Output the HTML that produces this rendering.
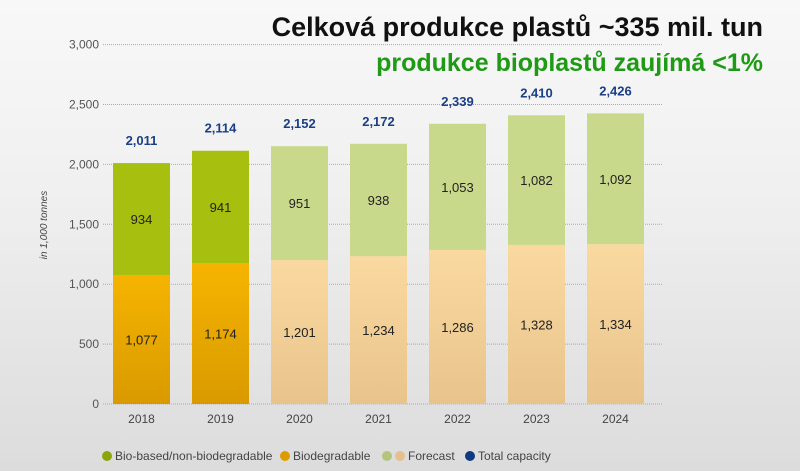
<!DOCTYPE html>
<html><head><meta charset="utf-8"><style>
html,body{margin:0;padding:0}
body{width:800px;height:471px;overflow:hidden;background:linear-gradient(#f8f8f8 0%,#f0f0f0 40%,#dcdcdc 100%);font-family:"Liberation Sans",sans-serif;position:relative}
svg{position:absolute;left:0;top:0}
</style></head><body>
<svg width="800" height="471">
<defs>
<linearGradient id="og" x1="0" y1="0" x2="0" y2="1"><stop offset="0" stop-color="#f6b400"/><stop offset="1" stop-color="#d99a00"/></linearGradient>
<linearGradient id="fo" x1="0" y1="0" x2="0" y2="1"><stop offset="0" stop-color="#fad9a0"/><stop offset="1" stop-color="#e8c48c"/></linearGradient>
</defs>
<g id="grid"></g><g id="bars"></g>
<text x="763" y="36" text-anchor="end" font-size="27" font-weight="bold" fill="#111">Celková produkce plastů ~335 mil. tun</text>
<text x="763" y="71" text-anchor="end" font-size="25" font-weight="bold" fill="#1e9a14">produkce bioplastů zaujímá &lt;1%</text>
<text transform="translate(47,225) rotate(-90)" text-anchor="middle" font-size="10" font-style="italic" fill="#444">in 1,000 tonnes</text>
<g font-size="12" fill="#444">
<circle cx="107" cy="456" r="5" fill="#8aa60c"/><text x="115" y="460">Bio-based/non-biodegradable</text>
<circle cx="285" cy="456" r="5" fill="#dc9c00"/><text x="293" y="460">Biodegradable</text>
<circle cx="387" cy="456" r="5" fill="#b4c47e"/><circle cx="400" cy="456" r="5" fill="#e6c08c"/><text x="408" y="460">Forecast</text>
<circle cx="470" cy="456" r="5" fill="#0d3b80"/><text x="478" y="460">Total capacity</text>
</g>
</svg>
<script>
const years=["2018","2019","2020","2021","2022","2023","2024"];
const biodeg=[1077,1174,1201,1234,1286,1328,1334];
const nonbio=[934,941,951,938,1053,1082,1092];
const totals=[2011,2114,2152,2172,2339,2410,2426];
const forecast=[false,false,true,true,true,true,true];
const ticks=[0,500,1000,1500,2000,2500,3000];
const NS="http://www.w3.org/2000/svg";
const y=v=>404-v*0.1198;
const x=i=>113+i*79;const bw=57;
function mk(t,a,p){const e=document.createElementNS(NS,t);for(const k in a)e.setAttribute(k,a[k]);p.appendChild(e);return e;}
const g=document.getElementById('grid'),b=document.getElementById('bars');
ticks.forEach(t=>{
 const l=mk('line',{x1:103,x2:662,y1:y(t),y2:y(t),stroke:'#aaa','stroke-dasharray':'1 1','stroke-width':1},g);
 
 
 const tx=mk('text',{x:99,y:y(t)+4,'text-anchor':'end','font-size':12,fill:'#555'},g);tx.textContent=t.toLocaleString('en-US');
 
 
});
years.forEach((yr,i)=>{
 const f=forecast[i];
 const r1=mk('rect',{x:x(i),y:y(biodeg[i]),width:bw,height:y(0)-y(biodeg[i]),fill:f?'url(#fo)':'url(#og)'},b);
 
 
 const r2=mk('rect',{x:x(i),y:y(totals[i]),width:bw,height:y(biodeg[i])-y(totals[i]),fill:f?'#c9d98b':'#a7bf0e'},b);
 
 
 const t1=mk('text',{x:x(i)+bw/2,y:y(biodeg[i]/2)+5,'text-anchor':'middle','font-size':13,fill:'#222'},b);t1.textContent=biodeg[i].toLocaleString('en-US');
 
 
 const t2=mk('text',{x:x(i)+bw/2,y:y(biodeg[i]+nonbio[i]/2)+5,'text-anchor':'middle','font-size':13,fill:'#222'},b);t2.textContent=nonbio[i].toLocaleString('en-US');
 
 
 const t3=mk('text',{x:x(i)+bw/2,y:y(totals[i])-18,'text-anchor':'middle','font-size':13,'font-weight':'bold',fill:'#1a3f86'},b);t3.textContent=totals[i].toLocaleString('en-US');
 
 
 const t4=mk('text',{x:x(i)+bw/2,y:423,'text-anchor':'middle','font-size':12,fill:'#444'},b);t4.textContent=yr;
 
 
});
</script>
</body></html>
